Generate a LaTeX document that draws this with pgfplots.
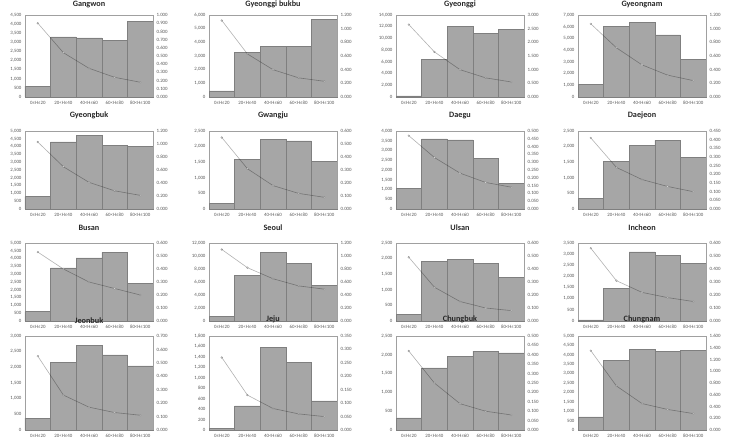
\documentclass[border=0pt]{standalone}
\usepackage{pgfplots}
\pgfplotsset{compat=1.18}
\usepackage{pgfplotstable}
\usepackage{fontspec}
\setmainfont{Carlito}
\definecolor{barfill}{HTML}{A6A6A6}
\definecolor{baredge}{HTML}{7F7F7F}
\definecolor{boxc}{HTML}{A0A0A0}
\definecolor{txt}{HTML}{595959}
\def\tshift{0pt}

\pgfplotsset{
  base/.style={
    scale only axis, width=128pt, xmin=-0.5, xmax=4.5, ymin=0,
    xtick={0,1,2,3,4},
    xticklabels={0≤H≤20,20<H≤40,40<H≤60,60<H≤80,80<H≤100},
    major tick length=0pt,
    axis line style={draw=boxc, line width=0.5pt},
    tick label style={font=\fontsize{4.9}{5}\selectfont, text=txt},
    x tick label style={yshift=-0.5pt},
    scaled y ticks=false,
    /pgf/number format/assume math mode=true,
    title style={at={(0.5,1)}, anchor=south, inner sep=1pt, yshift=\tshift, font=\bfseries\fontsize{8.2}{9}\selectfont, text=black!85},
    clip=false,
  },
  left/.style={base,
    yticklabel style={/pgf/number format/.cd, fixed, precision=0, 1000 sep={,}},
  },
  right/.style={base, axis y line*=right, axis x line=none, title={},
    yticklabel style={/pgf/number format/.cd, fixed, fixed zerofill, precision=3},
  },
}

\newcommand\panel[9]{%
  \begin{axis}[left, at={(#1,#2)}, height=#3, title={#4}, ymax=#5, ytick distance=#6]
    \addplot[ybar, bar width=1, fill=barfill, draw=baredge, line width=0.5pt] table[x=x,y=bar]{#9};
  \end{axis}
  \begin{axis}[right, at={(#1,#2)}, height=#3, ymax=#7, ytick distance=#8]
    \addplot[draw=black, draw opacity=0.3, line width=0.6pt, mark=*, mark size=0.9pt,
      mark options={fill=white, draw=gray, draw opacity=1, line width=0.3pt}] table[x=x,y=line]{#9};
  \end{axis}}

\pgfplotstableread{
x bar line
0 600 0.90
1 3300 0.54
2 3250 0.35
3 3100 0.24
4 4150 0.18
}\gangwon
\pgfplotstableread{
x bar line
0 450 1.12
1 3250 0.63
2 3700 0.40
3 3700 0.28
4 5700 0.23
}\bukbu
\pgfplotstableread{
x bar line
0 200 2.65
1 6400 1.65
2 12000 1.00
3 10900 0.70
4 11500 0.55
}\gyeonggi
\pgfplotstableread{
x bar line
0 1100 1.07
1 6050 0.72
2 6350 0.47
3 5300 0.32
4 3200 0.24
}\gyeongnam
\pgfplotstableread{
x bar line
0 800 1.03
1 4300 0.65
2 4700 0.41
3 4100 0.28
4 4000 0.21
}\gyeongbuk
\pgfplotstableread{
x bar line
0 180 0.55
1 1580 0.31
2 2230 0.18
3 2180 0.12
4 1520 0.09
}\gwangju
\pgfplotstableread{
x bar line
0 1050 0.47
1 3600 0.33
2 3550 0.23
3 2600 0.17
4 1300 0.14
}\daegu
\pgfplotstableread{
x bar line
0 330 0.41
1 1520 0.24
2 2030 0.17
3 2200 0.13
4 1650 0.10
}\daejeon
\pgfplotstableread{
x bar line
0 600 0.53
1 3400 0.40
2 4050 0.30
3 4400 0.25
4 2400 0.20
}\busan
\pgfplotstableread{
x bar line
0 750 1.10
1 7000 0.82
2 10600 0.65
3 8900 0.54
4 5500 0.49
}\seoul
\pgfplotstableread{
x bar line
0 220 0.49
1 1920 0.26
2 1970 0.15
3 1840 0.10
4 1390 0.08
}\ulsan
\pgfplotstableread{
x bar line
0 50 0.56
1 1470 0.31
2 3100 0.22
3 2950 0.18
4 2570 0.15
}\incheon
\pgfplotstableread{
x bar line
0 380 0.55
1 2150 0.26
2 2700 0.17
3 2400 0.13
4 2050 0.11
}\jeonbuk
\pgfplotstableread{
x bar line
0 30 0.27
1 460 0.13
2 1580 0.08
3 1300 0.06
4 560 0.05
}\jeju
\pgfplotstableread{
x bar line
0 320 0.42
1 1650 0.25
2 1950 0.14
3 2100 0.10
4 2050 0.08
}\chungbuk
\pgfplotstableread{
x bar line
0 700 1.35
1 3700 0.75
2 4300 0.45
3 4200 0.35
4 4250 0.28
}\chungnam

\begin{document}
\begin{tikzpicture}
\path[use as bounding box] (0pt,0pt) rectangle (730pt,446pt);
\def\tshift{0pt}
\panel{25pt}{349pt}{82pt}{Gangwon}{4500}{500}{1}{0.1}{\gangwon}
\panel{209pt}{349pt}{82pt}{Gyeonggi bukbu}{6000}{1000}{1.2}{0.2}{\bukbu}
\panel{396pt}{349pt}{82pt}{Gyeonggi}{14000}{2000}{3}{0.5}{\gyeonggi}
\panel{578pt}{349pt}{82pt}{Gyeongnam}{7000}{1000}{1.2}{0.2}{\gyeongnam}
\def\tshift{5pt}
\panel{25pt}{237pt}{78pt}{Gyeongbuk}{5000}{500}{1.2}{0.2}{\gyeongbuk}
\panel{209pt}{237pt}{78pt}{Gwangju}{2500}{500}{0.6}{0.1}{\gwangju}
\panel{396pt}{237pt}{78pt}{Daegu}{4000}{500}{0.5}{0.05}{\daegu}
\panel{578pt}{237pt}{78pt}{Daejeon}{2500}{500}{0.45}{0.05}{\daejeon}
\panel{25pt}{125pt}{78pt}{Busan}{5000}{500}{0.6}{0.1}{\busan}
\panel{209pt}{125pt}{78pt}{Seoul}{12000}{2000}{1.2}{0.2}{\seoul}
\panel{396pt}{125pt}{78pt}{Ulsan}{2500}{500}{0.6}{0.1}{\ulsan}
\panel{578pt}{125pt}{78pt}{Incheon}{3500}{500}{0.6}{0.1}{\incheon}
\def\tshift{5.5pt}
\panel{25pt}{16pt}{94pt}{Jeonbuk}{3000}{500}{0.7}{0.1}{\jeonbuk}
\panel{209pt}{16pt}{94pt}{Jeju}{1800}{200}{0.35}{0.05}{\jeju}
\panel{396pt}{16pt}{94pt}{Chungbuk}{2500}{500}{0.5}{0.05}{\chungbuk}
\panel{578pt}{16pt}{94pt}{Chungnam}{5000}{500}{1.6}{0.2}{\chungnam}
\end{tikzpicture}
\end{document}
